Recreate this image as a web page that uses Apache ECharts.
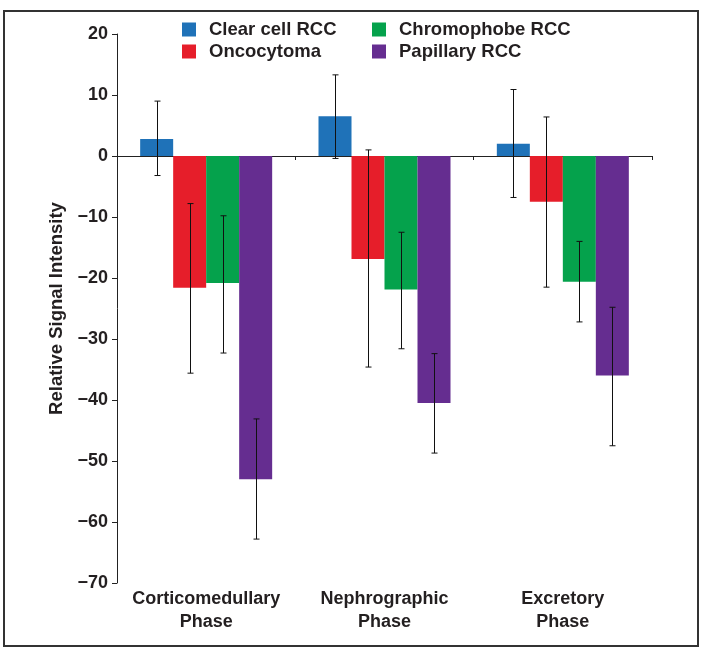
<!DOCTYPE html>
<html>
<head>
<meta charset="utf-8">
<script src="https://cdn.jsdelivr.net/npm/echarts@6/dist/echarts.min.js"></script>
<style>html,body{margin:0;padding:0;background:#fff;}#c{width:702px;height:652px;}</style>
</head>
<body>
<div id="c"></div>
<script>
// ---- data ----
const categories = ['Corticomedullary\nPhase', 'Nephrographic\nPhase', 'Excretory\nPhase'];
const seriesNames = ['Clear cell RCC', 'Oncocytoma', 'Chromophobe RCC', 'Papillary RCC'];
const clearCell = [2.8, 6.5, 2.0];
const clearCellLow = [-3.2, -0.4, -6.8];
const clearCellHigh = [9.0, 13.3, 10.9];
const oncocytoma = [-21.6, -16.9, -7.5];
const oncocytomaLow = [-35.6, -34.6, -21.5];
const oncocytomaHigh = [-7.8, 1.0, 6.4];
const chromophobe = [-20.8, -21.9, -20.6];
const chromophobeLow = [-32.3, -31.6, -27.2];
const chromophobeHigh = [-9.8, -12.5, -14.0];
const papillary = [-53.0, -40.5, -36.0];
const papillaryLow = [-62.8, -48.7, -47.5];
const papillaryHigh = [-43.1, -32.4, -24.8];
const yTicks = [-70, -60, -50, -40, -30, -20, -10, 0, 10, 20];

// ---- style ----
const colors = ['#1f72b8', '#e61e2a', '#05a24c', '#652d90'];
const BAR_W = 33;
const FONT = "'Liberation Sans', Arial, Helvetica, sans-serif";
const TXT = '#231f20';

const chart = echarts.init(document.getElementById('c'), null, {renderer: 'canvas'});

const values = [clearCell, oncocytoma, chromophobe, papillary];
const lows = [clearCellLow, oncocytomaLow, chromophobeLow, papillaryLow];
const highs = [clearCellHigh, oncocytomaHigh, chromophobeHigh, papillaryHigh];

function errSeries(k) {
  const data = categories.map((c, i) => [i, lows[k][i], highs[k][i]]);
  return {
    type: 'custom',
    name: 'err' + k,
    xAxisIndex: 0,
    z: 10,
    silent: true,
    data: data,
    renderItem: function (params, api) {
      const ci = api.value(0);
      const lo = api.coord([ci, api.value(1)]);
      const hi = api.coord([ci, api.value(2)]);
      const x = Math.round(lo[0] + (k - 1.5) * BAR_W) + 0.5;
      const cap = 3;
      const st = {stroke: '#111', lineWidth: 1};
      return {
        type: 'group',
        children: [
          {type: 'line', shape: {x1: x, y1: lo[1], x2: x, y2: hi[1]}, style: st},
          {type: 'line', shape: {x1: x - cap, y1: lo[1], x2: x + cap, y2: lo[1]}, style: st},
          {type: 'line', shape: {x1: x - cap, y1: hi[1], x2: x + cap, y2: hi[1]}, style: st}
        ]
      };
    }
  };
}

const barSeries = seriesNames.map((n, k) => ({
  type: 'bar',
  name: n,
  xAxisIndex: 0,
  data: values[k],
  barWidth: BAR_W,
  barGap: '0%',
  itemStyle: {color: colors[k]}
}));

const legendText = {fontFamily: FONT, fontWeight: 'bold', fontSize: 18.5, color: TXT, padding: [0, 0, 0, 8]};

const option = {
  animation: false,
  color: colors,
  legend: [
    {data: [seriesNames[0], seriesNames[1]], orient: 'vertical', left: 177, top: 15, icon: 'rect',
     itemWidth: 14, itemHeight: 14, itemGap: 3, textStyle: legendText, selectedMode: false},
    {data: [seriesNames[2], seriesNames[3]], orient: 'vertical', left: 367, top: 15, icon: 'rect',
     itemWidth: 14, itemHeight: 14, itemGap: 3, textStyle: legendText, selectedMode: false}
  ],
  grid: {left: 117, right: 50, top: 34, height: 549, containLabel: false},
  xAxis: [
    {
      type: 'category', data: categories, position: 'bottom',
      axisLine: {show: false, onZero: false}, axisTick: {show: false},
      axisLabel: {interval: 0, fontFamily: FONT, fontWeight: 'bold', fontSize: 18, color: TXT, lineHeight: 23, margin: 5}
    },
    {
      type: 'category', data: categories, position: 'top',
      axisLine: {show: true, onZero: true, lineStyle: {color: '#222', width: 1}},
      axisTick: {show: true, inside: true, length: 4, lineStyle: {color: '#222'}},
      axisLabel: {show: false}
    }
  ],
  yAxis: {
    type: 'value', min: -70, max: 20, interval: 10,
    name: 'Relative Signal Intensity', nameLocation: 'middle', nameGap: 48,
    nameTextStyle: {fontFamily: FONT, fontWeight: 'bold', fontSize: 18.5, color: TXT},
    axisLine: {show: true, lineStyle: {color: '#222', width: 1}},
    axisTick: {show: true, length: 5, lineStyle: {color: '#222'}},
    splitLine: {show: false},
    axisLabel: {
      fontFamily: FONT, fontWeight: 'bold', fontSize: 18, color: TXT, margin: 9,
      formatter: v => yTicks.includes(v) ? String(v).replace('-', '\u2212') : ''
    }
  },
  graphic: [
    {type: 'rect', shape: {x: 4, y: 11, width: 694, height: 635},
     style: {fill: 'none', stroke: '#333', lineWidth: 2}, silent: true, z: 100}
  ],
  series: barSeries.concat([0, 1, 2, 3].map(errSeries))
};

chart.setOption(option);
</script>
</body>
</html>
